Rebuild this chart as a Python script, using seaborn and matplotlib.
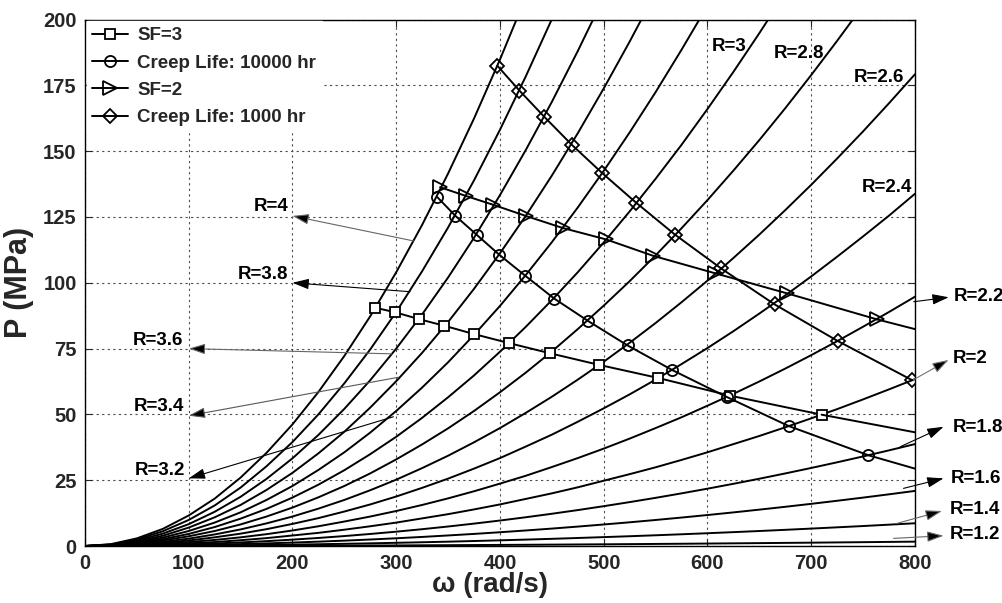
import matplotlib
matplotlib.use("Agg")
import matplotlib.pyplot as plt
import pandas as pd
import seaborn as sns

# angular speed grid for the R curves (rad/s)
OMEGA = list(range(0, 801, 25))

# P (MPa); steep curves stop once they leave the top of the plot
R_NAMES = ["4", "3.8", "3.6", "3.4", "3.2", "3", "2.8", "2.6", "2.4", "2.2", "2", "1.8", "1.6", "1.4", "1.2"]
P_R40 = [0, 0.7, 2.9, 6.5, 11.6, 18.0, 26.0, 35.4, 46.2, 58.5, 72.2, 87.3, 104.0, 122.0, 141.5, 162.4,
         184.8, 208.6]
P_R38 = [0, 0.6, 2.5, 5.6, 9.9, 15.4, 22.2, 30.3, 39.5, 50.0, 61.8, 74.7, 88.9, 104.4, 121.0, 138.9,
         158.1, 178.5, 200.1, 222.9]
P_R36 = [0, 0.5, 2.1, 4.7, 8.3, 13.0, 18.7, 25.5, 33.3, 42.2, 52.1, 63.0, 75.0, 88.0, 102.0, 117.1,
         133.3, 150.5, 168.7, 188.0, 208.3]
P_R34 = [0, 0.4, 1.7, 3.9, 7.0, 10.9, 15.6, 21.3, 27.8, 35.2, 43.4, 52.6, 62.6, 73.4, 85.1, 97.7,
         111.2, 125.5, 140.7, 156.8, 173.8, 191.6, 210.2]
P_R32 = [0, 0.4, 1.4, 3.2, 5.7, 8.9, 12.8, 17.5, 22.8, 28.9, 35.6, 43.1, 51.3, 60.2, 69.8, 80.2,
         91.2, 103.0, 115.4, 128.6, 142.5, 157.1, 172.4, 188.5, 205.2]
P_R30 = [0, 0.3, 1.2, 2.6, 4.6, 7.2, 10.4, 14.1, 18.4, 23.3, 28.8, 34.9, 41.5, 48.7, 56.5, 64.8,
         73.8, 83.3, 93.4, 104.0, 115.3, 127.1, 139.5, 152.4, 166.0, 180.1, 194.8, 210.0]
P_R28 = [0, 0.2, 0.9, 2.1, 3.7, 5.7, 8.2, 11.2, 14.6, 18.5, 22.8, 27.6, 32.9, 38.6, 44.7, 51.3,
         58.4, 65.9, 73.9, 82.4, 91.3, 100.6, 110.4, 120.7, 131.4, 142.6, 154.2, 166.3, 178.9, 191.9, 205.3]
P_R26 = [0, 0.2, 0.7, 1.6, 2.8, 4.4, 6.3, 8.6, 11.2, 14.2, 17.5, 21.2, 25.2, 29.6, 34.3, 39.4,
         44.8, 50.6, 56.7, 63.2, 70.0, 77.2, 84.7, 92.6, 100.8, 109.4, 118.3, 127.6, 137.2, 147.2, 157.5,
         168.2, 179.2]
P_R24 = [0, 0.1, 0.5, 1.2, 2.1, 3.3, 4.7, 6.4, 8.4, 10.6, 13.1, 15.8, 18.8, 22.1, 25.6, 29.4,
         33.4, 37.8, 42.3, 47.2, 52.3, 57.6, 63.2, 69.1, 75.2, 81.6, 88.3, 95.2, 102.4, 109.9, 117.6,
         125.5, 133.8]
P_R22 = [0, 0.1, 0.4, 0.8, 1.5, 2.3, 3.3, 4.5, 5.9, 7.5, 9.3, 11.2, 13.3, 15.6, 18.1, 20.8,
         23.7, 26.7, 30.0, 33.4, 37.0, 40.8, 44.8, 48.9, 53.3, 57.8, 62.5, 67.4, 72.5, 77.8, 83.3,
         88.9, 94.7]
P_R20 = [0, 0.1, 0.2, 0.6, 1.0, 1.5, 2.2, 3.0, 4.0, 5.0, 6.2, 7.5, 8.9, 10.5, 12.1, 13.9,
         15.8, 17.9, 20.0, 22.3, 24.8, 27.3, 29.9, 32.7, 35.6, 38.7, 41.8, 45.1, 48.5, 52.0, 55.7,
         59.5, 63.4]
P_R18 = [0, 0.04, 0.15, 0.34, 0.61, 0.95, 1.36, 1.85, 2.42, 3.06, 3.78, 4.58, 5.45, 6.39, 7.41, 8.51,
         9.68, 10.93, 12.25, 13.65, 15.13, 16.68, 18.3, 20.0, 21.78, 23.63, 25.56, 27.57, 29.65, 31.8,
         34.03, 36.34, 38.72]
P_R16 = [0, 0.02, 0.08, 0.18, 0.33, 0.51, 0.74, 1.0, 1.31, 1.66, 2.04, 2.47, 2.94, 3.45, 4.01, 4.6,
         5.23, 5.91, 6.62, 7.38, 8.18, 9.01, 9.89, 10.81, 11.77, 12.77, 13.82, 14.9, 16.02, 17.19,
         18.39, 19.64, 20.93]
P_R14 = [0, 0.01, 0.03, 0.08, 0.14, 0.21, 0.3, 0.41, 0.54, 0.68, 0.84, 1.02, 1.22, 1.43, 1.65, 1.9,
         2.16, 2.44, 2.73, 3.05, 3.38, 3.72, 4.08, 4.46, 4.86, 5.27, 5.7, 6.15, 6.62, 7.1, 7.59, 8.11, 8.64]
P_R12 = [0, 0.0, 0.01, 0.01, 0.03, 0.04, 0.06, 0.08, 0.1, 0.13, 0.16, 0.2, 0.23, 0.28, 0.32, 0.37,
         0.42, 0.47, 0.53, 0.59, 0.65, 0.72, 0.79, 0.86, 0.94, 1.02, 1.1, 1.19, 1.27, 1.37, 1.46, 1.56, 1.66]
CURVES = [P_R40, P_R38, P_R36, P_R34, P_R32, P_R30, P_R28, P_R26,
          P_R24, P_R22, P_R20, P_R18, P_R16, P_R14, P_R12]

# design limit lines (markers sit on the R curves), last point = where the line meets the right edge
SF3_W = [280.0, 299.0, 321.8, 346.2, 375.1, 408.6, 448.4, 495.7, 551.9, 622.0, 710.0, 800.0]
SF3_P = [90.5, 88.8, 86.2, 83.7, 80.5, 77.1, 73.2, 68.8, 63.9, 57.1, 49.9, 43.2]
CL10K_W = [339.7, 357.1, 377.7, 399.5, 424.6, 452.3, 485.3, 523.0, 566.3, 618.7, 678.2, 755.0, 800.0]
CL10K_P = [132.5, 125.4, 118.2, 110.6, 102.6, 94.0, 85.4, 76.2, 66.8, 56.6, 45.6, 34.5, 29.4]
SF2_W = [342.3, 367.1, 393.7, 424.9, 460.6, 502.1, 548.0, 607.5, 676.6, 763.4, 800.0]
SF2_P = [136.3, 133.0, 129.6, 125.4, 120.8, 116.5, 110.2, 103.6, 96.0, 86.1, 82.4]
CL1K_W = [397.6, 418.8, 442.6, 469.3, 498.2, 531.3, 569.0, 613.0, 664.7, 725.5, 797.3]
CL1K_P = [182.4, 173.0, 163.1, 152.4, 141.8, 130.4, 118.2, 105.5, 91.8, 77.9, 63.0]

# R labels: text, label position, arrow tip, arrow tail, arrow colour
LEFT_LABELS = [
    ("R=4", (196, 128.9), (200, 125.4), (316.6, 115.9), "0.4"),
    ("R=3.8", (196, 103.2), (200, 100.0), (313.4, 96.6), "black"),
    ("R=3.6", (95, 77.9), (100, 75.0), (295.8, 73.0), "0.4"),
    ("R=3.4", (96, 52.9), (100, 49.5), (302.1, 64.1), "0.35"),
    ("R=3.2", (97, 28.5), (100, 25.7), (297.3, 49.1), "black"),
]
TOP_LABELS = [("R=3", (604, 189.7)), ("R=2.8", (664, 187.2)),
              ("R=2.6", (741.5, 177.9)), ("R=2.4", (749, 136.1))]
RIGHT_LABELS = [
    ("R=2.2", (837, 94.6), (832.6, 94.5), (798.8, 92.8), "black"),
    ("R=2", (836, 71.4), (832.5, 70.7), (797.4, 62.9), "0.45"),
    ("R=1.8", (836, 45.2), (827.6, 45.3), (785.8, 37.7), "black"),
    ("R=1.6", (835, 25.8), (827.6, 25.7), (789.0, 21.9), "black"),
    ("R=1.4", (834, 13.7), (826.0, 13.3), (782.7, 8.6), "0.4"),
    ("R=1.2", (834, 4.2), (827.6, 3.9), (779.4, 2.9), "0.4"),
]

sns.set_theme(style="ticks")
plt.rcParams["font.family"] = ["Liberation Sans", "DejaVu Sans"]
plt.rcParams["font.weight"] = "bold"

rows = []
for name, vals in zip(R_NAMES, CURVES):
    for w, p in zip(OMEGA, vals):
        rows.append((w, p, name))
df = pd.DataFrame(rows, columns=["omega", "P", "R"])

fig = plt.figure(figsize=(10.02, 6.03), dpi=100)
ax = fig.add_axes([0.0848, 0.0945, 0.8283, 0.8731])

sns.lineplot(data=df, x="omega", y="P", units="R", estimator=None, sort=False,
             color="black", lw=1.4, legend=False, ax=ax)

series = [
    ("SF=3", SF3_W, SF3_P, "s", 7, "white"),
    ("Creep Life: 10000 hr", CL10K_W, CL10K_P, "o", 8, "none"),
    ("SF=2", SF2_W, SF2_P, ">", 10, "none"),
    ("Creep Life: 1000 hr", CL1K_W, CL1K_P, "D", 7, "none"),
]
for label, ws, ps, mk, ms, fc in series:
    n = len(ws) if label == "Creep Life: 1000 hr" else len(ws) - 1
    sns.lineplot(x=ws[:n], y=ps[:n], sort=False, color="black", lw=1.4,
                 marker=mk, markersize=ms, markerfacecolor=fc,
                 markeredgecolor="black", markeredgewidth=1.3,
                 label=label, ax=ax, zorder=4)
    if n < len(ws):
        sns.lineplot(x=ws[n - 1:], y=ps[n - 1:], sort=False, color="black",
                     lw=1.4, ax=ax, zorder=4)

lbl_font = dict(fontsize=13.5, fontweight="bold", color="black")
arrow_kw = dict(arrowstyle="-|>,head_length=0.5,head_width=0.16", lw=0.8,
                shrinkA=0, shrinkB=0, mutation_scale=20)
for txt, pos, tip, tail, col in LEFT_LABELS:
    ax.text(pos[0], pos[1], txt, ha="right", va="center", **lbl_font)
    ax.annotate("", xy=tip, xytext=tail,
                arrowprops=dict(color=col, fc="black", **arrow_kw))
for txt, pos in TOP_LABELS:
    ax.text(pos[0], pos[1], txt, ha="left", va="center", **lbl_font)
for txt, pos, tip, tail, col in RIGHT_LABELS:
    ax.text(pos[0], pos[1], txt, ha="left", va="center", clip_on=False, **lbl_font)
    ax.annotate("", xy=tip, xytext=tail, annotation_clip=False,
                arrowprops=dict(color=col, fc="black", **arrow_kw))

ax.set_xlim(0, 800)
ax.set_ylim(0, 200)
ax.set_xticks(range(0, 801, 100))
ax.set_yticks(range(0, 201, 25))
ax.grid(True, linestyle=(0, (2, 3)), color="0.3", lw=0.8)
ax.set_axisbelow(True)
ax.tick_params(direction="in", top=True, right=True, length=5, width=0.8,
               labelsize=14.5, pad=6)
for t in ax.get_xticklabels() + ax.get_yticklabels():
    t.set_fontweight("bold")
for sp in ax.spines.values():
    sp.set_linewidth(1.0)
    sp.set_color("black")

ax.set_xlabel("ω (rad/s)", fontsize=20, fontweight="bold")
ax.set_ylabel("P (MPa)", fontsize=22, fontweight="bold")
ax.xaxis.set_label_coords(0.488, -0.05)
ax.yaxis.set_label_coords(-0.062, 0.5)

ax.legend(loc="upper left", frameon=True, facecolor="white", edgecolor="white",
          framealpha=1, fancybox=False, borderaxespad=0.1, borderpad=0.3,
          handlelength=1.9, handletextpad=0.5, labelspacing=0.55,
          prop=dict(size=13.5, weight="bold"))

fig.savefig("out.png", dpi=100)
